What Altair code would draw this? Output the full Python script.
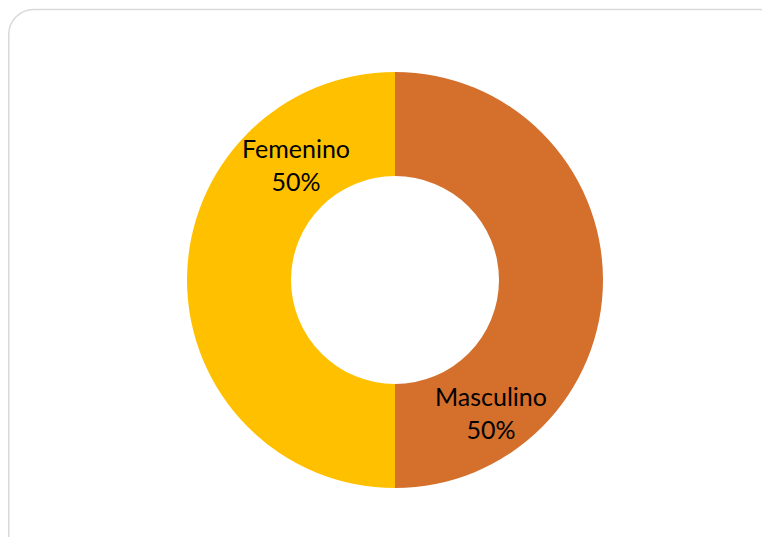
import altair as alt
import pandas as pd

categories = ["Masculino", "Femenino"]
values = [50, 50]
labels = ["Masculino\n50%", "Femenino\n50%"]
order = [1, 2]

df = pd.DataFrame({"cat": categories, "val": values, "label": labels, "ord": order})

CX, CY = 387, 272
base = alt.Chart(df)

border = base.transform_filter(alt.datum.ord == 1).mark_rect(
    fill=None, stroke="#d9d9d9", strokeWidth=1.5, cornerRadius=25
).encode(x=alt.value(0.75), y=alt.value(1.5), x2=alt.value(785), y2=alt.value(560))

arcs = base.mark_arc(outerRadius=208, innerRadius=104, stroke=None).encode(
    theta=alt.Theta("val:Q", stack=True),
    order=alt.Order("ord:Q"),
    color=alt.Color("cat:N", scale=alt.Scale(domain=categories, range=["#D46F2C", "#FFC000"]), legend=None),
    x=alt.value(CX), y=alt.value(CY),
)

def label_layer(cat, dx, dy):
    return base.transform_filter(alt.datum.cat == cat).mark_text(
        font="Lato", fontSize=25, color="#000000", align="center", baseline="middle",
        lineBreak="\n", lineHeight=33, dx=dx, dy=dy
    ).encode(text="label:N", x=alt.value(CX), y=alt.value(CY))

t1 = label_layer("Femenino", -99, -130)
t2 = label_layer("Masculino", 96, 118)

chart = alt.layer(border, arcs, t1, t2).properties(
    width=754, height=529, padding=0, autosize="none"
).configure_view(stroke=None)

chart.save("out.html", embed_options={"renderer": "svg", "actions": False})
